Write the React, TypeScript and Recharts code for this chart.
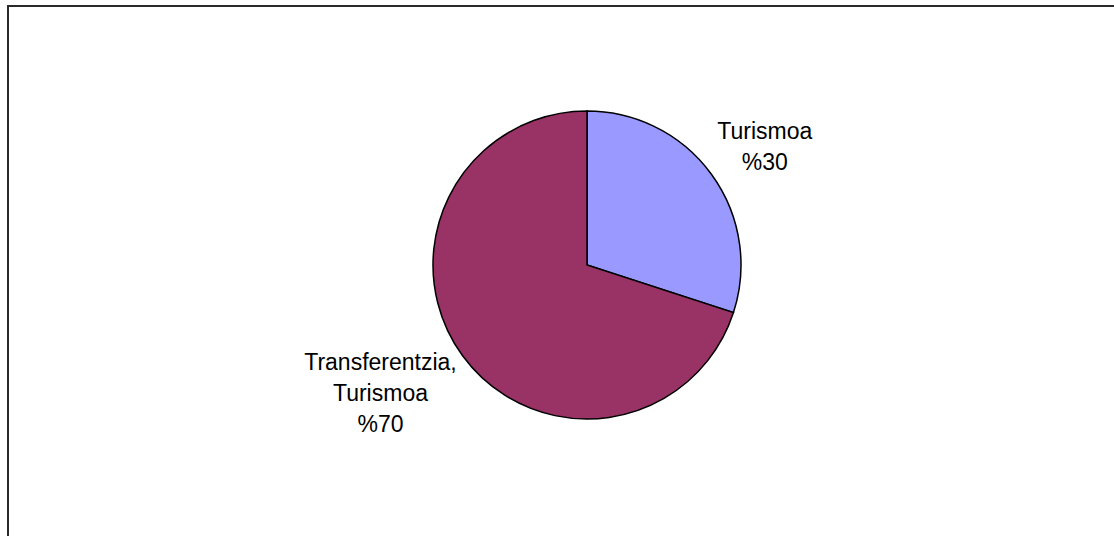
import React from 'react';
import { PieChart, Pie, Cell } from 'recharts';

const names = ['Turismoa', 'Transferentzia,\nTurismoa'];
const shares = [30, 70];
const colors = ['#9999FF', '#993366'];

const chartData = names.map((name, i) => ({ name, value: shares[i] }));

const FONT_SIZE = 23;
const LINE_H = 31;
const CAP = 16.5;

const measure = (text: string): number => {
  if (typeof document === 'undefined') return text.length * FONT_SIZE * 0.5;
  const canvas = document.createElement('canvas');
  const ctx = canvas.getContext('2d');
  if (!ctx) return text.length * FONT_SIZE * 0.5;
  ctx.font = `${FONT_SIZE}px "Liberation Sans", Arial, sans-serif`;
  return ctx.measureText(text).width;
};

// Excel-like label: the corner of the text box nearest the pie sits just outside the rim
const renderLabel = (props: any) => {
  const { cx, cy, midAngle, outerRadius, name, value } = props;
  const lines = [...String(name).split('\n'), `%${value}`];
  const w = Math.max(...lines.map(measure));
  const h = CAP + (lines.length - 1) * LINE_H;
  const rad = (Math.PI / 180) * midAngle;
  const d = outerRadius + 7;
  const x0 = cx + d * Math.cos(rad);
  const y0 = cy - d * Math.sin(rad);
  const right = Math.cos(rad) >= 0;
  const below = Math.sin(rad) < 0;
  const left = right ? x0 : x0 - w;
  const top = below ? y0 - 6 : y0 - h;
  const mid = left + w / 2;
  return (
    <text
      x={mid}
      y={top + CAP}
      textAnchor="middle"
      fill="#000"
      fontSize={FONT_SIZE}
      fontFamily='"Liberation Sans", Arial, sans-serif'
    >
      {lines.map((ln, i) => (
        <tspan key={i} x={mid} y={top + CAP + i * LINE_H}>
          {ln}
        </tspan>
      ))}
    </text>
  );
};

export default function App() {
  return (
    <div style={{ position: 'absolute', left: 0, top: 0, width: 1114, height: 536, background: '#fff', overflow: 'hidden' }}>
      <div
        style={{
          position: 'absolute',
          left: 7,
          top: 5,
          width: 1200,
          height: 600,
          borderTop: '2px solid #2a2a2a',
          borderLeft: '2px solid #2a2a2a',
        }}
      />
      <PieChart
        width={1114}
        height={536}
        margin={{ top: 0, right: 0, bottom: 0, left: 0 }}
        style={{ position: 'absolute', left: 0, top: 0 }}
      >
        <Pie
          data={chartData}
          dataKey="value"
          nameKey="name"
          cx={587}
          cy={265}
          outerRadius={154}
          startAngle={90}
          endAngle={-270}
          stroke="#000"
          strokeWidth={1.5}
          label={renderLabel}
          labelLine={false}
          isAnimationActive={false}
        >
          {chartData.map((entry, index) => (
            <Cell key={`cell-${index}`} fill={colors[index]} />
          ))}
        </Pie>
      </PieChart>
    </div>
  );
}
